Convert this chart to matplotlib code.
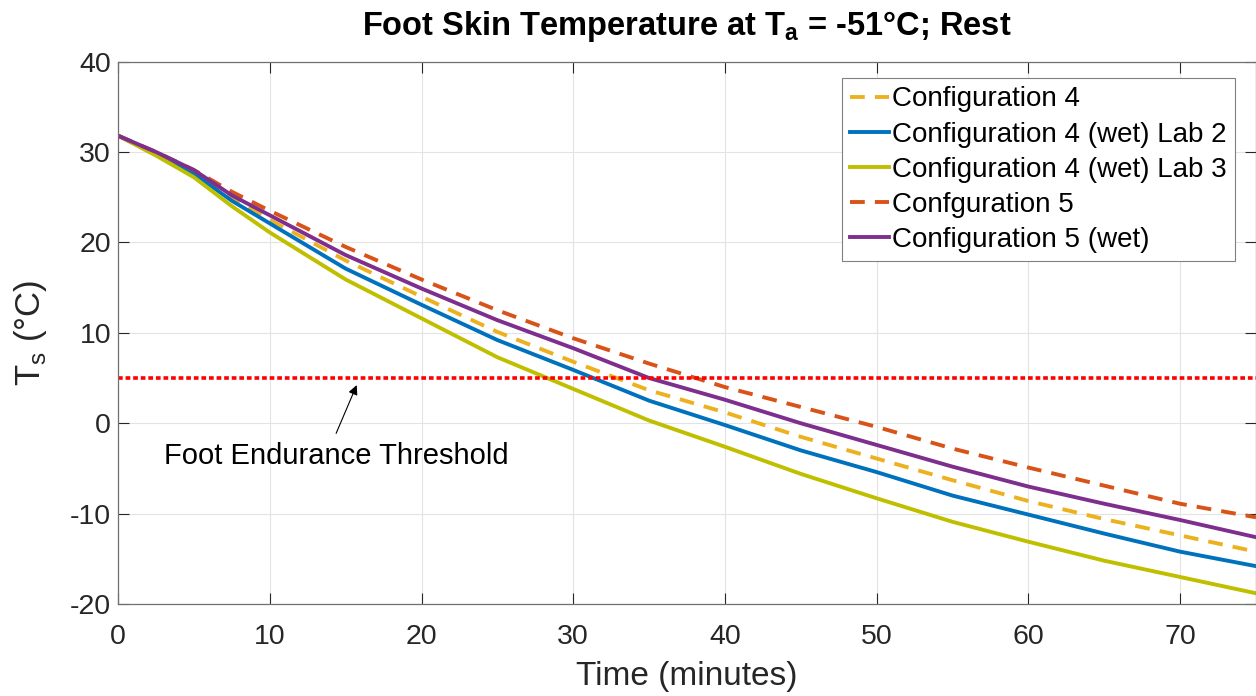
import matplotlib
matplotlib.use('Agg')
import matplotlib.pyplot as plt

plt.rcParams['font.family'] = ['Liberation Sans', 'DejaVu Sans']
plt.rcParams['mathtext.fontset'] = 'custom'
plt.rcParams['mathtext.rm'] = 'Liberation Sans'
plt.rcParams['mathtext.bf'] = 'Liberation Sans:bold'
plt.rcParams['axes.unicode_minus'] = False

# time (minutes)
time_min = [0, 2.5, 5, 7.5, 10, 15, 20, 25, 30, 35, 40, 45, 50, 55, 60, 65, 70, 75]

# skin temperature (deg C)
config4 = [31.8, 29.9, 27.8, 24.9, 22.5, 18.0, 14.0, 10.1, 6.8, 3.65, 1.2, -1.5, -3.9, -6.3, -8.6, -10.6, -12.4, -14.2]
config4_wet_lab2 = [31.8, 29.8, 27.6, 24.6, 22.1, 17.1, 13.1, 9.2, 5.9, 2.5, -0.2, -3.0, -5.4, -8.0, -10.1, -12.2, -14.2, -15.8]
config4_wet_lab3 = [31.8, 29.6, 27.2, 24.0, 21.1, 15.9, 11.6, 7.3, 3.8, 0.3, -2.6, -5.6, -8.3, -10.9, -13.1, -15.2, -17.0, -18.8]
config5 = [31.8, 30.0, 28.0, 25.6, 23.5, 19.5, 15.9, 12.5, 9.4, 6.6, 4.0, 1.8, -0.4, -2.8, -4.9, -6.9, -8.9, -10.4]
config5_wet = [31.8, 30.0, 28.0, 25.2, 23.0, 18.6, 14.9, 11.4, 8.3, 5.0, 2.6, 0.0, -2.4, -4.8, -7.0, -8.9, -10.7, -12.6]

threshold = 5

fig = plt.figure(figsize=(12.56, 6.96), dpi=100)
ax = fig.add_axes([0.094, 0.132, 0.906, 0.7796])

dash = (0, (3.8, 2.6))
lw = 2.8
ax.plot(time_min, config4, color='#EDB120', linestyle=dash, lw=lw, label='Configuration 4')
ax.plot(time_min, config4_wet_lab2, color='#0072BD', lw=lw, label='Configuration 4 (wet) Lab 2')
ax.plot(time_min, config4_wet_lab3, color='#BFBF00', lw=lw, label='Configuration 4 (wet) Lab 3')
ax.plot(time_min, config5, color='#D95319', linestyle=dash, lw=lw, label='Confguration 5')
ax.plot(time_min, config5_wet, color='#7E2F8E', lw=lw, label='Configuration 5 (wet)')
ax.axhline(threshold, color='#FF0000', linestyle=(0, (1.3, 0.8)), lw=2.6)

ax.annotate('', xy=(15.8, 4.5), xytext=(14.3, -1.4),
            arrowprops=dict(arrowstyle='-|>', color='k', lw=0.8, mutation_scale=14))
ax.text(14.4, -3.6, 'Foot Endurance Threshold', fontsize=21, ha='center', va='center')

ax.set_xlim(0, 75)
ax.set_ylim(-20, 40)
ax.set_xticks(range(0, 71, 10))
ax.set_yticks(range(-20, 41, 10))
ax.grid(True, color='#e3e3e3', lw=0.8)
ax.set_axisbelow(True)
ax.tick_params(direction='in', length=8, width=0.8, colors='#262626', labelsize=20.5,
               top=True, right=True, pad=5)
ax.tick_params(axis='x', pad=14)
for s in ax.spines.values():
    s.set_color('#707070')
    s.set_linewidth(0.9)

ax.set_xlabel('Time (minutes)', fontsize=24, color='#262626', labelpad=8)
ax.set_ylabel(r'T$_\mathregular{s}$ (°C)', fontsize=25, color='#262626', labelpad=15)
ax.set_title(r'Foot Skin Temperature at T$_\mathbf{a}$ = -51°C; Rest',
             fontsize=23.5, fontweight='bold', pad=19)

leg = ax.legend(loc='upper right', bbox_to_anchor=(0.9815, 0.9696), borderaxespad=0,
                fontsize=20, handlelength=1.4, handletextpad=0.1, labelspacing=0.33,
                borderpad=0.3, fancybox=False, framealpha=1)
leg.get_frame().set_edgecolor('#808080')
leg.get_frame().set_linewidth(0.8)

fig.savefig('out.png', dpi=100)
